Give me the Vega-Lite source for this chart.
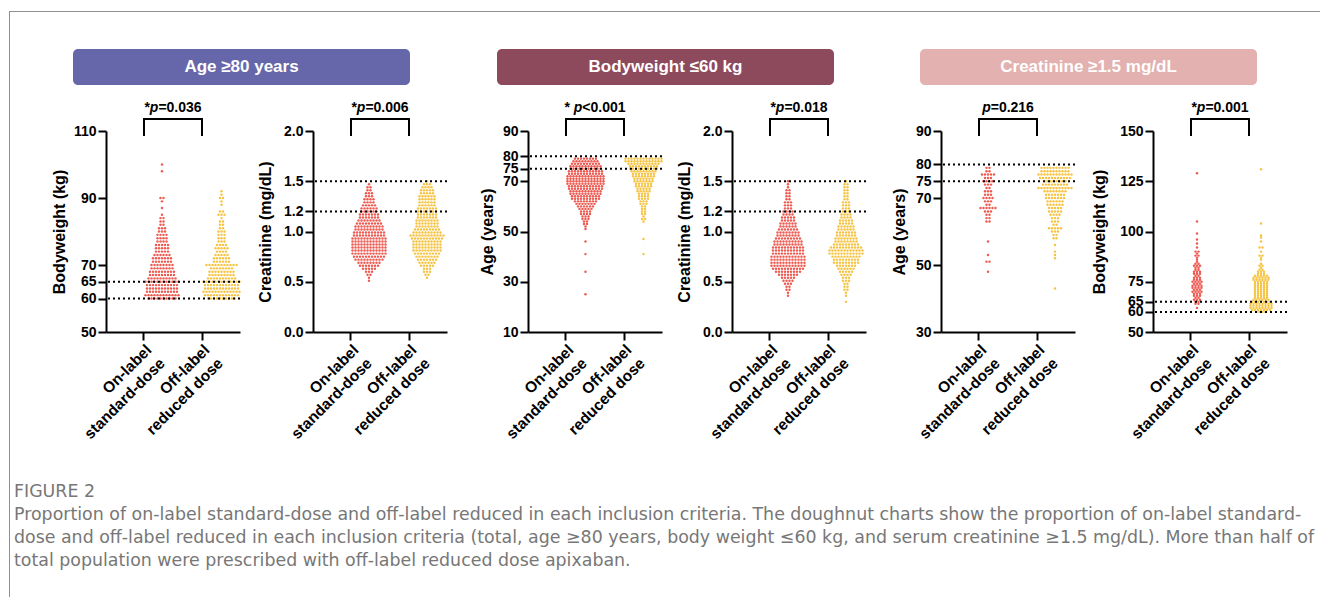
{
"$schema": "https://vega.github.io/schema/vega-lite/v6.json",
"padding": {"left": 9, "top": 11, "right": 0, "bottom": 0},
"background": "white",
"config": {
 "view": {"stroke": null},
 "font": "Liberation Sans",
 "axis": {"domainColor": "#000", "domainWidth": 2, "tickColor": "#000", "tickWidth": 2, "tickSize": 8, "labelColor": "#000", "labelFont": "Liberation Sans", "labelFontSize": 14, "labelFontWeight": "bold", "labelPadding": 2, "titleColor": "#000", "titleFont": "Liberation Sans", "titleFontSize": 16, "titleFontWeight": "bold", "grid": false, "labelOverlap": false, "labelFlush": false}
},
"datasets": {
 "a1": [60,60,60,60,60,60,60,60,60,60,61,61,61,61,61,61,61,61,61,61,61,61,62,62,62,62,62,62,62,62,62,62,62,63,63,63,63,63,63,63,63,63,63,63,64,64,64,64,64,64,64,64,64,64,64,65,65,65,65,65,65,65,65,65,65,65,65,66,66,66,66,66,66,66,66,66,66,67,67,67,67,67,67,67,67,67,68,68,68,68,68,68,68,68,68,69,69,69,69,69,69,69,69,70,70,70,70,70,70,70,70,71,71,71,71,71,71,71,72,72,72,72,72,72,72,73,73,73,73,73,73,74,74,74,74,74,75,75,75,75,75,76,76,76,76,76,77,77,77,77,78,78,78,78,79,79,79,79,80,80,80,81,81,81,82,82,83,83,84,84,85,87,89,90,90,98,100],
 "b1": [60,60,60,60,60,60,60,60,60,60,61,61,61,61,61,61,61,61,61,61,61,61,62,62,62,62,62,62,62,62,62,62,62,62,62,63,63,63,63,63,63,63,63,63,63,63,63,64,64,64,64,64,64,64,64,64,64,64,64,65,65,65,65,65,65,65,65,65,65,65,65,65,66,66,66,66,66,66,66,66,66,66,67,67,67,67,67,67,67,67,67,68,68,68,68,68,68,68,68,68,69,69,69,69,69,69,69,69,70,70,70,70,70,70,70,70,70,70,70,71,71,71,71,71,71,72,72,72,72,72,72,73,73,73,73,73,74,74,74,74,75,75,75,75,75,76,76,76,76,77,77,77,78,78,78,79,79,79,80,80,80,81,81,82,82,83,83,84,85,85,85,86,86,88,89,90,90,91,92],
 "a2": [0.51,0.54,0.57,0.57,0.6,0.6,0.6,0.63,0.63,0.63,0.63,0.63,0.66,0.66,0.66,0.66,0.66,0.66,0.66,0.69,0.69,0.69,0.69,0.69,0.69,0.69,0.69,0.72,0.72,0.72,0.72,0.72,0.72,0.72,0.72,0.72,0.72,0.75,0.75,0.75,0.75,0.75,0.75,0.75,0.75,0.75,0.75,0.75,0.78,0.78,0.78,0.78,0.78,0.78,0.78,0.78,0.78,0.78,0.78,0.78,0.81,0.81,0.81,0.81,0.81,0.81,0.81,0.81,0.81,0.81,0.81,0.81,0.84,0.84,0.84,0.84,0.84,0.84,0.84,0.84,0.84,0.84,0.84,0.84,0.87,0.87,0.87,0.87,0.87,0.87,0.87,0.87,0.87,0.87,0.87,0.87,0.9,0.9,0.9,0.9,0.9,0.9,0.9,0.9,0.9,0.9,0.9,0.9,0.93,0.93,0.93,0.93,0.93,0.93,0.93,0.93,0.93,0.93,0.93,0.93,0.96,0.96,0.96,0.96,0.96,0.96,0.96,0.96,0.96,0.96,0.96,0.99,0.99,0.99,0.99,0.99,0.99,0.99,0.99,0.99,0.99,0.99,1.02,1.02,1.02,1.02,1.02,1.02,1.02,1.02,1.02,1.02,1.05,1.05,1.05,1.05,1.05,1.05,1.05,1.05,1.05,1.05,1.08,1.08,1.08,1.08,1.08,1.08,1.08,1.08,1.08,1.11,1.11,1.11,1.11,1.11,1.11,1.11,1.11,1.14,1.14,1.14,1.14,1.14,1.14,1.14,1.17,1.17,1.17,1.17,1.17,1.17,1.17,1.2,1.2,1.2,1.2,1.2,1.2,1.23,1.23,1.23,1.23,1.23,1.23,1.26,1.26,1.26,1.26,1.26,1.29,1.29,1.29,1.29,1.32,1.32,1.32,1.32,1.35,1.35,1.35,1.38,1.38,1.38,1.41,1.41,1.44,1.44,1.47],
 "b2": [0.54,0.57,0.57,0.6,0.6,0.6,0.63,0.63,0.63,0.66,0.66,0.66,0.66,0.66,0.69,0.69,0.69,0.69,0.69,0.69,0.72,0.72,0.72,0.72,0.72,0.72,0.72,0.75,0.75,0.75,0.75,0.75,0.75,0.75,0.75,0.78,0.78,0.78,0.78,0.78,0.78,0.78,0.78,0.78,0.81,0.81,0.81,0.81,0.81,0.81,0.81,0.81,0.81,0.81,0.84,0.84,0.84,0.84,0.84,0.84,0.84,0.84,0.84,0.84,0.87,0.87,0.87,0.87,0.87,0.87,0.87,0.87,0.87,0.87,0.9,0.9,0.9,0.9,0.9,0.9,0.9,0.9,0.9,0.9,0.93,0.93,0.93,0.93,0.93,0.93,0.93,0.93,0.93,0.93,0.93,0.96,0.96,0.96,0.96,0.96,0.96,0.96,0.96,0.96,0.96,0.96,0.96,0.99,0.99,0.99,0.99,0.99,0.99,0.99,0.99,0.99,0.99,1.02,1.02,1.02,1.02,1.02,1.02,1.02,1.02,1.02,1.05,1.05,1.05,1.05,1.05,1.05,1.05,1.05,1.08,1.08,1.08,1.08,1.08,1.08,1.08,1.08,1.11,1.11,1.11,1.11,1.11,1.11,1.11,1.11,1.14,1.14,1.14,1.14,1.14,1.14,1.14,1.17,1.17,1.17,1.17,1.17,1.17,1.17,1.2,1.2,1.2,1.2,1.2,1.2,1.2,1.23,1.23,1.23,1.23,1.23,1.23,1.23,1.26,1.26,1.26,1.26,1.26,1.26,1.29,1.29,1.29,1.29,1.29,1.29,1.32,1.32,1.32,1.32,1.32,1.32,1.35,1.35,1.35,1.35,1.35,1.35,1.38,1.38,1.38,1.38,1.38,1.41,1.41,1.41,1.41,1.41,1.44,1.44,1.44,1.44,1.47,1.47,1.47,1.5],
 "a3": [79,79,79,79,79,79,79,79,78,78,78,78,78,78,78,78,78,77,77,77,77,77,77,77,77,77,77,76,76,76,76,76,76,76,76,76,76,76,75,75,75,75,75,75,75,75,75,75,75,74,74,74,74,74,74,74,74,74,74,74,74,73,73,73,73,73,73,73,73,73,73,73,73,72,72,72,72,72,72,72,72,72,72,72,72,72,71,71,71,71,71,71,71,71,71,71,71,71,71,70,70,70,70,70,70,70,70,70,70,70,70,70,69,69,69,69,69,69,69,69,69,69,69,69,69,68,68,68,68,68,68,68,68,68,68,68,68,67,67,67,67,67,67,67,67,67,67,67,67,66,66,66,66,66,66,66,66,66,66,66,65,65,65,65,65,65,65,65,65,65,65,64,64,64,64,64,64,64,64,64,64,63,63,63,63,63,63,63,63,63,63,62,62,62,62,62,62,62,62,61,61,61,61,61,61,61,60,60,60,60,60,60,59,59,59,59,59,58,58,58,58,57,57,57,57,56,56,56,55,55,55,54,54,53,53,52,51,46,41,34,25],
 "b3": [79,79,79,79,79,79,79,79,79,79,79,79,79,78,78,78,78,78,78,78,78,78,78,78,78,78,77,77,77,77,77,77,77,77,77,77,77,76,76,76,76,76,76,76,76,76,76,75,75,75,75,75,75,75,75,75,75,74,74,74,74,74,74,74,74,74,73,73,73,73,73,73,73,73,72,72,72,72,72,72,72,72,71,71,71,71,71,71,71,70,70,70,70,70,70,70,69,69,69,69,69,69,68,68,68,68,68,68,67,67,67,67,67,66,66,66,66,66,65,65,65,65,64,64,64,64,63,63,63,63,62,62,62,61,61,61,60,60,59,59,58,58,57,57,56,55,55,54,47,41],
 "a4": [0.36,0.39,0.42,0.42,0.45,0.45,0.48,0.48,0.48,0.51,0.51,0.51,0.51,0.54,0.54,0.54,0.54,0.54,0.57,0.57,0.57,0.57,0.57,0.57,0.57,0.6,0.6,0.6,0.6,0.6,0.6,0.6,0.6,0.6,0.63,0.63,0.63,0.63,0.63,0.63,0.63,0.63,0.63,0.63,0.63,0.66,0.66,0.66,0.66,0.66,0.66,0.66,0.66,0.66,0.66,0.66,0.66,0.69,0.69,0.69,0.69,0.69,0.69,0.69,0.69,0.69,0.69,0.69,0.69,0.72,0.72,0.72,0.72,0.72,0.72,0.72,0.72,0.72,0.72,0.72,0.72,0.75,0.75,0.75,0.75,0.75,0.75,0.75,0.75,0.75,0.75,0.75,0.75,0.78,0.78,0.78,0.78,0.78,0.78,0.78,0.78,0.78,0.78,0.78,0.81,0.81,0.81,0.81,0.81,0.81,0.81,0.81,0.81,0.81,0.81,0.84,0.84,0.84,0.84,0.84,0.84,0.84,0.84,0.84,0.84,0.84,0.87,0.87,0.87,0.87,0.87,0.87,0.87,0.87,0.87,0.87,0.9,0.9,0.9,0.9,0.9,0.9,0.9,0.9,0.9,0.9,0.93,0.93,0.93,0.93,0.93,0.93,0.93,0.93,0.93,0.96,0.96,0.96,0.96,0.96,0.96,0.96,0.96,0.99,0.99,0.99,0.99,0.99,0.99,0.99,0.99,1.02,1.02,1.02,1.02,1.02,1.02,1.02,1.05,1.05,1.05,1.05,1.05,1.05,1.08,1.08,1.08,1.08,1.08,1.08,1.11,1.11,1.11,1.11,1.11,1.14,1.14,1.14,1.14,1.14,1.17,1.17,1.17,1.17,1.2,1.2,1.2,1.2,1.23,1.23,1.23,1.26,1.26,1.26,1.29,1.29,1.29,1.32,1.32,1.35,1.35,1.38,1.38,1.41,1.41,1.44,1.47,1.5],
 "b4": [0.3,0.36,0.39,0.42,0.42,0.45,0.45,0.48,0.48,0.51,0.51,0.51,0.54,0.54,0.54,0.57,0.57,0.57,0.57,0.6,0.6,0.6,0.6,0.6,0.63,0.63,0.63,0.63,0.63,0.63,0.66,0.66,0.66,0.66,0.66,0.66,0.66,0.69,0.69,0.69,0.69,0.69,0.69,0.69,0.69,0.69,0.72,0.72,0.72,0.72,0.72,0.72,0.72,0.72,0.72,0.75,0.75,0.75,0.75,0.75,0.75,0.75,0.75,0.75,0.75,0.78,0.78,0.78,0.78,0.78,0.78,0.78,0.78,0.78,0.78,0.78,0.78,0.81,0.81,0.81,0.81,0.81,0.81,0.81,0.81,0.81,0.81,0.81,0.81,0.84,0.84,0.84,0.84,0.84,0.84,0.84,0.84,0.84,0.84,0.84,0.87,0.87,0.87,0.87,0.87,0.87,0.87,0.87,0.87,0.9,0.9,0.9,0.9,0.9,0.9,0.9,0.9,0.93,0.93,0.93,0.93,0.93,0.93,0.93,0.93,0.96,0.96,0.96,0.96,0.96,0.96,0.96,0.99,0.99,0.99,0.99,0.99,0.99,0.99,1.02,1.02,1.02,1.02,1.02,1.02,1.05,1.05,1.05,1.05,1.05,1.05,1.08,1.08,1.08,1.08,1.08,1.11,1.11,1.11,1.11,1.11,1.14,1.14,1.14,1.14,1.17,1.17,1.17,1.17,1.2,1.2,1.2,1.23,1.23,1.23,1.26,1.26,1.26,1.29,1.29,1.29,1.32,1.32,1.35,1.35,1.38,1.38,1.41,1.41,1.44,1.44,1.47,1.47,1.5],
 "a5": [79,79,78,78,77,77,77,77,77,76,76,76,75,75,75,75,74,74,74,73,73,72,72,72,71,71,71,70,70,70,70,69,69,69,68,68,67,67,67,67,67,67,66,66,66,65,65,64,64,63,63,57,53,51,51,48],
 "b5": [79,79,79,79,79,79,79,79,79,79,78,78,78,78,78,78,78,78,78,78,77,77,77,77,77,77,77,77,77,77,77,77,76,76,76,76,76,76,76,76,76,76,76,75,75,75,75,75,75,75,75,74,74,74,74,74,74,74,74,74,73,73,73,73,73,73,73,73,73,73,73,73,72,72,72,72,72,72,72,72,71,71,71,71,71,71,71,70,70,70,70,70,70,70,69,69,69,69,69,69,68,68,68,68,68,68,67,67,67,67,67,66,66,66,66,66,65,65,65,65,64,64,64,63,63,63,62,62,61,61,61,61,61,60,60,60,59,59,58,58,56,54,53,52,43],
 "a6": [62,64,64,65,65,66,66,66,67,67,68,68,68,69,69,69,70,70,70,70,71,71,71,72,72,72,72,73,73,73,73,74,74,74,75,75,75,75,76,76,76,77,77,77,78,78,79,79,79,80,80,80,81,81,82,82,83,83,83,84,84,85,86,87,88,88,89,90,90,92,94,96,99,105,129],
 "b6": [60,60,60,60,61,61,61,61,61,61,61,62,62,62,62,62,62,62,62,63,63,63,63,63,63,63,63,64,64,64,64,64,64,64,64,65,65,65,65,65,65,65,66,66,66,66,66,66,67,67,67,67,67,68,68,68,68,68,69,69,69,69,69,70,70,70,70,70,71,71,71,71,71,72,72,72,72,72,73,73,73,73,73,74,74,74,74,74,75,75,75,75,75,76,76,76,76,76,76,77,77,77,77,77,77,78,78,78,78,78,79,79,79,80,80,80,81,81,82,83,83,84,86,87,88,88,90,92,92,95,97,98,104,131]
},
"spacing": 0,
"hconcat": [
 {"width": 1, "height": 586, "data": {"values": [{}]}, "mark": {"type": "rect", "color": "#909090"}, "encoding": {}},
 {"spacing": 0, "vconcat": [
  {"spacing": 0, "bounds": "flush", "hconcat": [
   {"width": 1310, "height": 1, "data": {"values": [{}]}, "mark": {"type": "rect", "color": "#909090"}, "encoding": {}},
   {"width": 1, "height": 38, "data": {"values": [{}]}, "mark": {"type": "rect", "opacity": 0}, "encoding": {}}
  ]},
  {"spacing": 0, "bounds": "flush", "hconcat": [
   {"width": 63, "height": 51, "data": {"values": [{}]}, "mark": {"type": "rect", "opacity": 0}, "encoding": {}},
   {"width": 337, "height": 36, "data": {"values": [{"t": "Age ≥80 years"}]}, "layer": [
    {"mark": {"type": "rect", "color": "#6667AB", "cornerRadius": 5}, "encoding": {}},
    {"mark": {"type": "text", "color": "white", "fontSize": 17, "fontWeight": "bold", "font": "Liberation Sans", "align": "center", "baseline": "middle"}, "encoding": {"text": {"field": "t"}}}
   ]},
   {"width": 87, "height": 1, "data": {"values": [{}]}, "mark": {"type": "rect", "opacity": 0}, "encoding": {}},
   {"width": 337, "height": 36, "data": {"values": [{"t": "Bodyweight ≤60 kg"}]}, "layer": [
    {"mark": {"type": "rect", "color": "#8D4A5D", "cornerRadius": 5}, "encoding": {}},
    {"mark": {"type": "text", "color": "white", "fontSize": 17, "fontWeight": "bold", "font": "Liberation Sans", "align": "center", "baseline": "middle"}, "encoding": {"text": {"field": "t"}}}
   ]},
   {"width": 86, "height": 1, "data": {"values": [{}]}, "mark": {"type": "rect", "opacity": 0}, "encoding": {}},
   {"width": 337, "height": 36, "data": {"values": [{"t": "Creatinine ≥1.5 mg/dL"}]}, "layer": [
    {"mark": {"type": "rect", "color": "#E2B1B0", "cornerRadius": 5}, "encoding": {}},
    {"mark": {"type": "text", "color": "white", "fontSize": 17, "fontWeight": "bold", "font": "Liberation Sans", "align": "center", "baseline": "middle"}, "encoding": {"text": {"field": "t"}}}
   ]}
  ]},
  {"spacing": 0, "bounds": "flush", "hconcat": [
   {"width": 96, "height": 349, "data": {"values": [{}]}, "mark": {"type": "rect", "opacity": 0}, "encoding": {}},
   {"width": 134, "height": 201,
    "encoding": {"y": {"field": "data", "type": "quantitative", "title": "Bodyweight (kg)", "scale": {"domain": [50, 110], "nice": false, "zero": false}, "axis": {"values": [50, 60, 65, 70, 90, 110], "titlePadding": 6}}},
    "layer": [
     {"data": {"name": "a1"}, "transform": [{"window": [{"op": "count", "as": "one"}], "frame": [0, 0]}, {"stack": "one", "groupby": ["data"], "offset": "center", "as": ["s0", "s1"]}],
      "mark": {"type": "circle", "size": 6, "color": "#EE5B52", "opacity": 1},
      "encoding": {"x": {"datum": "On-label standard-dose", "type": "nominal", "title": null, "scale": {"type": "band", "domain": ["On-label standard-dose", "Off-label reduced dose"], "paddingInner": 0, "paddingOuter": 0.155}, "axis": {"labelAngle": -45, "labelAlign": "right", "labelBaseline": "top", "labelFontSize": 15.5, "labelLineHeight": 19, "bandPosition": 0.5, "labelPadding": 2, "labelExpr": "datum.label == 'On-label standard-dose' ? ['On-label', 'standard-dose'] : ['Off-label', 'reduced dose']"}},
       "xOffset": {"field": "s0", "type": "quantitative", "scale": {"domain": [-10.17, 9.17], "nice": false, "zero": false}}}},
     {"data": {"name": "b1"}, "transform": [{"window": [{"op": "count", "as": "one"}], "frame": [0, 0]}, {"stack": "one", "groupby": ["data"], "offset": "center", "as": ["s0", "s1"]}],
      "mark": {"type": "circle", "size": 6, "color": "#F6C445", "opacity": 1},
      "encoding": {"x": {"datum": "Off-label reduced dose", "type": "nominal", "title": null, "scale": {"type": "band", "domain": ["On-label standard-dose", "Off-label reduced dose"], "paddingInner": 0, "paddingOuter": 0.155}},
       "xOffset": {"field": "s0", "type": "quantitative", "scale": {"domain": [-10.17, 9.17], "nice": false, "zero": false}}}},
     {"data": {"values": [{"data": 60}, {"data": 65}]}, "mark": {"type": "rule", "color": "black", "strokeWidth": 2, "strokeDash": [2, 3]}, "encoding": {}},
     {"data": {"values": [{"i": 0, "g": "On-label standard-dose", "data": 108.51}, {"i": 1, "g": "On-label standard-dose", "data": 113.58}, {"i": 2, "g": "Off-label reduced dose", "data": 113.58}, {"i": 3, "g": "Off-label reduced dose", "data": 108.51}]},
      "mark": {"type": "line", "color": "black", "strokeWidth": 2, "strokeJoin": "miter"},
      "encoding": {"x": {"field": "g", "type": "nominal", "title": null, "scale": {"type": "band", "domain": ["On-label standard-dose", "Off-label reduced dose"], "paddingInner": 0, "paddingOuter": 0.155}}, "order": {"field": "i", "type": "quantitative"}}},
     {"data": {"values": [{"data": 116.87}]}, "mark": {"type": "text", "text": "*", "align": "right", "baseline": "middle", "dx": -23.15, "fontSize": 14, "fontWeight": "bold", "font": "Liberation Sans", "color": "black"},
      "encoding": {"x": {"datum": "Off-label reduced dose", "type": "nominal", "bandPosition": 0, "title": null, "scale": {"type": "band", "domain": ["On-label standard-dose", "Off-label reduced dose"], "paddingInner": 0, "paddingOuter": 0.155}}}},
     {"data": {"values": [{"data": 116.87}]}, "mark": {"type": "text", "text": "p", "align": "right", "baseline": "middle", "dx": -14.6, "fontSize": 14, "fontWeight": "bold", "fontStyle": "italic", "font": "Liberation Sans", "color": "black"},
      "encoding": {"x": {"datum": "Off-label reduced dose", "type": "nominal", "bandPosition": 0, "title": null, "scale": {"type": "band", "domain": ["On-label standard-dose", "Off-label reduced dose"], "paddingInner": 0, "paddingOuter": 0.155}}}},
     {"data": {"values": [{"data": 116.87}]}, "mark": {"type": "text", "text": "=0.036", "align": "left", "baseline": "middle", "dx": -14.6, "fontSize": 14, "fontWeight": "bold", "font": "Liberation Sans", "color": "black"},
      "encoding": {"x": {"datum": "Off-label reduced dose", "type": "nominal", "bandPosition": 0, "title": null, "scale": {"type": "band", "domain": ["On-label standard-dose", "Off-label reduced dose"], "paddingInner": 0, "paddingOuter": 0.155}}}}
    ]},
   {"width": 73, "height": 1, "data": {"values": [{}]}, "mark": {"type": "rect", "opacity": 0}, "encoding": {}},
   {"width": 134, "height": 201,
    "encoding": {"y": {"field": "data", "type": "quantitative", "title": "Creatinine  (mg/dL)", "scale": {"domain": [0, 2], "nice": false, "zero": false}, "axis": {"values": [0, 0.5, 1, 1.2, 1.5, 2], "format": ".1f", "titlePadding": 10}}},
    "layer": [
     {"data": {"name": "a2"}, "transform": [{"window": [{"op": "count", "as": "one"}], "frame": [0, 0]}, {"stack": "one", "groupby": ["data"], "offset": "center", "as": ["s0", "s1"]}],
      "mark": {"type": "circle", "size": 6, "color": "#EE5B52", "opacity": 1},
      "encoding": {"x": {"datum": "On-label standard-dose", "type": "nominal", "title": null, "scale": {"type": "band", "domain": ["On-label standard-dose", "Off-label reduced dose"], "paddingInner": 0, "paddingOuter": 0.155}, "axis": {"labelAngle": -45, "labelAlign": "right", "labelBaseline": "top", "labelFontSize": 15.5, "labelLineHeight": 19, "bandPosition": 0.5, "labelPadding": 2, "labelExpr": "datum.label == 'On-label standard-dose' ? ['On-label', 'standard-dose'] : ['Off-label', 'reduced dose']"}},
       "xOffset": {"field": "s0", "type": "quantitative", "scale": {"domain": [-10.17, 9.17], "nice": false, "zero": false}}}},
     {"data": {"name": "b2"}, "transform": [{"window": [{"op": "count", "as": "one"}], "frame": [0, 0]}, {"stack": "one", "groupby": ["data"], "offset": "center", "as": ["s0", "s1"]}],
      "mark": {"type": "circle", "size": 6, "color": "#F6C445", "opacity": 1},
      "encoding": {"x": {"datum": "Off-label reduced dose", "type": "nominal", "title": null, "scale": {"type": "band", "domain": ["On-label standard-dose", "Off-label reduced dose"], "paddingInner": 0, "paddingOuter": 0.155}},
       "xOffset": {"field": "s0", "type": "quantitative", "scale": {"domain": [-10.17, 9.17], "nice": false, "zero": false}}}},
     {"data": {"values": [{"data": 1.2}, {"data": 1.5}]}, "mark": {"type": "rule", "color": "black", "strokeWidth": 2, "strokeDash": [2, 3]}, "encoding": {}},
     {"data": {"values": [{"i": 0, "g": "On-label standard-dose", "data": 1.95}, {"i": 1, "g": "On-label standard-dose", "data": 2.119}, {"i": 2, "g": "Off-label reduced dose", "data": 2.119}, {"i": 3, "g": "Off-label reduced dose", "data": 1.95}]},
      "mark": {"type": "line", "color": "black", "strokeWidth": 2, "strokeJoin": "miter"},
      "encoding": {"x": {"field": "g", "type": "nominal", "title": null, "scale": {"type": "band", "domain": ["On-label standard-dose", "Off-label reduced dose"], "paddingInner": 0, "paddingOuter": 0.155}}, "order": {"field": "i", "type": "quantitative"}}},
     {"data": {"values": [{"data": 2.229}]}, "mark": {"type": "text", "text": "*", "align": "right", "baseline": "middle", "dx": -23.15, "fontSize": 14, "fontWeight": "bold", "font": "Liberation Sans", "color": "black"},
      "encoding": {"x": {"datum": "Off-label reduced dose", "type": "nominal", "bandPosition": 0, "title": null, "scale": {"type": "band", "domain": ["On-label standard-dose", "Off-label reduced dose"], "paddingInner": 0, "paddingOuter": 0.155}}}},
     {"data": {"values": [{"data": 2.229}]}, "mark": {"type": "text", "text": "p", "align": "right", "baseline": "middle", "dx": -14.6, "fontSize": 14, "fontWeight": "bold", "fontStyle": "italic", "font": "Liberation Sans", "color": "black"},
      "encoding": {"x": {"datum": "Off-label reduced dose", "type": "nominal", "bandPosition": 0, "title": null, "scale": {"type": "band", "domain": ["On-label standard-dose", "Off-label reduced dose"], "paddingInner": 0, "paddingOuter": 0.155}}}},
     {"data": {"values": [{"data": 2.229}]}, "mark": {"type": "text", "text": "=0.006", "align": "left", "baseline": "middle", "dx": -14.6, "fontSize": 14, "fontWeight": "bold", "font": "Liberation Sans", "color": "black"},
      "encoding": {"x": {"datum": "Off-label reduced dose", "type": "nominal", "bandPosition": 0, "title": null, "scale": {"type": "band", "domain": ["On-label standard-dose", "Off-label reduced dose"], "paddingInner": 0, "paddingOuter": 0.155}}}}
    ]},
   {"width": 81, "height": 1, "data": {"values": [{}]}, "mark": {"type": "rect", "opacity": 0}, "encoding": {}},
   {"width": 134, "height": 201,
    "encoding": {"y": {"field": "data", "type": "quantitative", "title": "Age (years)", "scale": {"domain": [10, 90], "nice": false, "zero": false}, "axis": {"values": [10, 30, 50, 70, 75, 80, 90], "titlePadding": 7}}},
    "layer": [
     {"data": {"name": "a3"}, "transform": [{"window": [{"op": "count", "as": "one"}], "frame": [0, 0]}, {"stack": "one", "groupby": ["data"], "offset": "center", "as": ["s0", "s1"]}],
      "mark": {"type": "circle", "size": 6, "color": "#EE5B52", "opacity": 1},
      "encoding": {"x": {"datum": "On-label standard-dose", "type": "nominal", "title": null, "scale": {"type": "band", "domain": ["On-label standard-dose", "Off-label reduced dose"], "paddingInner": 0, "paddingOuter": 0.155}, "axis": {"labelAngle": -45, "labelAlign": "right", "labelBaseline": "top", "labelFontSize": 15.5, "labelLineHeight": 19, "bandPosition": 0.5, "labelPadding": 2, "labelExpr": "datum.label == 'On-label standard-dose' ? ['On-label', 'standard-dose'] : ['Off-label', 'reduced dose']"}},
       "xOffset": {"field": "s0", "type": "quantitative", "scale": {"domain": [-10.17, 9.17], "nice": false, "zero": false}}}},
     {"data": {"name": "b3"}, "transform": [{"window": [{"op": "count", "as": "one"}], "frame": [0, 0]}, {"stack": "one", "groupby": ["data"], "offset": "center", "as": ["s0", "s1"]}],
      "mark": {"type": "circle", "size": 6, "color": "#F6C445", "opacity": 1},
      "encoding": {"x": {"datum": "Off-label reduced dose", "type": "nominal", "title": null, "scale": {"type": "band", "domain": ["On-label standard-dose", "Off-label reduced dose"], "paddingInner": 0, "paddingOuter": 0.155}},
       "xOffset": {"field": "s0", "type": "quantitative", "scale": {"domain": [-10.17, 9.17], "nice": false, "zero": false}}}},
     {"data": {"values": [{"data": 75}, {"data": 80}]}, "mark": {"type": "rule", "color": "black", "strokeWidth": 2, "strokeDash": [2, 3]}, "encoding": {}},
     {"data": {"values": [{"i": 0, "g": "On-label standard-dose", "data": 88.01}, {"i": 1, "g": "On-label standard-dose", "data": 94.78}, {"i": 2, "g": "Off-label reduced dose", "data": 94.78}, {"i": 3, "g": "Off-label reduced dose", "data": 88.01}]},
      "mark": {"type": "line", "color": "black", "strokeWidth": 2, "strokeJoin": "miter"},
      "encoding": {"x": {"field": "g", "type": "nominal", "title": null, "scale": {"type": "band", "domain": ["On-label standard-dose", "Off-label reduced dose"], "paddingInner": 0, "paddingOuter": 0.155}}, "order": {"field": "i", "type": "quantitative"}}},
     {"data": {"values": [{"data": 99.15}]}, "mark": {"type": "text", "text": "*", "align": "right", "baseline": "middle", "dx": -25.1, "fontSize": 14, "fontWeight": "bold", "font": "Liberation Sans", "color": "black"},
      "encoding": {"x": {"datum": "Off-label reduced dose", "type": "nominal", "bandPosition": 0, "title": null, "scale": {"type": "band", "domain": ["On-label standard-dose", "Off-label reduced dose"], "paddingInner": 0, "paddingOuter": 0.155}}}},
     {"data": {"values": [{"data": 99.15}]}, "mark": {"type": "text", "text": "p", "align": "right", "baseline": "middle", "dx": -12.66, "fontSize": 14, "fontWeight": "bold", "fontStyle": "italic", "font": "Liberation Sans", "color": "black"},
      "encoding": {"x": {"datum": "Off-label reduced dose", "type": "nominal", "bandPosition": 0, "title": null, "scale": {"type": "band", "domain": ["On-label standard-dose", "Off-label reduced dose"], "paddingInner": 0, "paddingOuter": 0.155}}}},
     {"data": {"values": [{"data": 99.15}]}, "mark": {"type": "text", "text": "<0.001", "align": "left", "baseline": "middle", "dx": -12.66, "fontSize": 14, "fontWeight": "bold", "font": "Liberation Sans", "color": "black"},
      "encoding": {"x": {"datum": "Off-label reduced dose", "type": "nominal", "bandPosition": 0, "title": null, "scale": {"type": "band", "domain": ["On-label standard-dose", "Off-label reduced dose"], "paddingInner": 0, "paddingOuter": 0.155}}}}
    ]},
   {"width": 70, "height": 1, "data": {"values": [{}]}, "mark": {"type": "rect", "opacity": 0}, "encoding": {}},
   {"width": 134, "height": 201,
    "encoding": {"y": {"field": "data", "type": "quantitative", "title": "Creatinine  (mg/dL)", "scale": {"domain": [0, 2], "nice": false, "zero": false}, "axis": {"values": [0, 0.5, 1, 1.2, 1.5, 2], "format": ".1f", "titlePadding": 10}}},
    "layer": [
     {"data": {"name": "a4"}, "transform": [{"window": [{"op": "count", "as": "one"}], "frame": [0, 0]}, {"stack": "one", "groupby": ["data"], "offset": "center", "as": ["s0", "s1"]}],
      "mark": {"type": "circle", "size": 6, "color": "#EE5B52", "opacity": 1},
      "encoding": {"x": {"datum": "On-label standard-dose", "type": "nominal", "title": null, "scale": {"type": "band", "domain": ["On-label standard-dose", "Off-label reduced dose"], "paddingInner": 0, "paddingOuter": 0.155}, "axis": {"labelAngle": -45, "labelAlign": "right", "labelBaseline": "top", "labelFontSize": 15.5, "labelLineHeight": 19, "bandPosition": 0.5, "labelPadding": 2, "labelExpr": "datum.label == 'On-label standard-dose' ? ['On-label', 'standard-dose'] : ['Off-label', 'reduced dose']"}},
       "xOffset": {"field": "s0", "type": "quantitative", "scale": {"domain": [-10.17, 9.17], "nice": false, "zero": false}}}},
     {"data": {"name": "b4"}, "transform": [{"window": [{"op": "count", "as": "one"}], "frame": [0, 0]}, {"stack": "one", "groupby": ["data"], "offset": "center", "as": ["s0", "s1"]}],
      "mark": {"type": "circle", "size": 6, "color": "#F6C445", "opacity": 1},
      "encoding": {"x": {"datum": "Off-label reduced dose", "type": "nominal", "title": null, "scale": {"type": "band", "domain": ["On-label standard-dose", "Off-label reduced dose"], "paddingInner": 0, "paddingOuter": 0.155}},
       "xOffset": {"field": "s0", "type": "quantitative", "scale": {"domain": [-10.17, 9.17], "nice": false, "zero": false}}}},
     {"data": {"values": [{"data": 1.2}, {"data": 1.5}]}, "mark": {"type": "rule", "color": "black", "strokeWidth": 2, "strokeDash": [2, 3]}, "encoding": {}},
     {"data": {"values": [{"i": 0, "g": "On-label standard-dose", "data": 1.95}, {"i": 1, "g": "On-label standard-dose", "data": 2.119}, {"i": 2, "g": "Off-label reduced dose", "data": 2.119}, {"i": 3, "g": "Off-label reduced dose", "data": 1.95}]},
      "mark": {"type": "line", "color": "black", "strokeWidth": 2, "strokeJoin": "miter"},
      "encoding": {"x": {"field": "g", "type": "nominal", "title": null, "scale": {"type": "band", "domain": ["On-label standard-dose", "Off-label reduced dose"], "paddingInner": 0, "paddingOuter": 0.155}}, "order": {"field": "i", "type": "quantitative"}}},
     {"data": {"values": [{"data": 2.229}]}, "mark": {"type": "text", "text": "*", "align": "right", "baseline": "middle", "dx": -23.15, "fontSize": 14, "fontWeight": "bold", "font": "Liberation Sans", "color": "black"},
      "encoding": {"x": {"datum": "Off-label reduced dose", "type": "nominal", "bandPosition": 0, "title": null, "scale": {"type": "band", "domain": ["On-label standard-dose", "Off-label reduced dose"], "paddingInner": 0, "paddingOuter": 0.155}}}},
     {"data": {"values": [{"data": 2.229}]}, "mark": {"type": "text", "text": "p", "align": "right", "baseline": "middle", "dx": -14.6, "fontSize": 14, "fontWeight": "bold", "fontStyle": "italic", "font": "Liberation Sans", "color": "black"},
      "encoding": {"x": {"datum": "Off-label reduced dose", "type": "nominal", "bandPosition": 0, "title": null, "scale": {"type": "band", "domain": ["On-label standard-dose", "Off-label reduced dose"], "paddingInner": 0, "paddingOuter": 0.155}}}},
     {"data": {"values": [{"data": 2.229}]}, "mark": {"type": "text", "text": "=0.018", "align": "left", "baseline": "middle", "dx": -14.6, "fontSize": 14, "fontWeight": "bold", "font": "Liberation Sans", "color": "black"},
      "encoding": {"x": {"datum": "Off-label reduced dose", "type": "nominal", "bandPosition": 0, "title": null, "scale": {"type": "band", "domain": ["On-label standard-dose", "Off-label reduced dose"], "paddingInner": 0, "paddingOuter": 0.155}}}}
    ]},
   {"width": 75, "height": 1, "data": {"values": [{}]}, "mark": {"type": "rect", "opacity": 0}, "encoding": {}},
   {"width": 134, "height": 201,
    "encoding": {"y": {"field": "data", "type": "quantitative", "title": "Age (years)", "scale": {"domain": [30, 90], "nice": false, "zero": false}, "axis": {"values": [30, 50, 70, 75, 80, 90], "titlePadding": 8}}},
    "layer": [
     {"data": {"name": "a5"}, "transform": [{"window": [{"op": "count", "as": "one"}], "frame": [0, 0]}, {"stack": "one", "groupby": ["data"], "offset": "center", "as": ["s0", "s1"]}],
      "mark": {"type": "circle", "size": 6, "color": "#EE5B52", "opacity": 1},
      "encoding": {"x": {"datum": "On-label standard-dose", "type": "nominal", "title": null, "scale": {"type": "band", "domain": ["On-label standard-dose", "Off-label reduced dose"], "paddingInner": 0, "paddingOuter": 0.155}, "axis": {"labelAngle": -45, "labelAlign": "right", "labelBaseline": "top", "labelFontSize": 15.5, "labelLineHeight": 19, "bandPosition": 0.5, "labelPadding": 2, "labelExpr": "datum.label == 'On-label standard-dose' ? ['On-label', 'standard-dose'] : ['Off-label', 'reduced dose']"}},
       "xOffset": {"field": "s0", "type": "quantitative", "scale": {"domain": [-10.17, 9.17], "nice": false, "zero": false}}}},
     {"data": {"name": "b5"}, "transform": [{"window": [{"op": "count", "as": "one"}], "frame": [0, 0]}, {"stack": "one", "groupby": ["data"], "offset": "center", "as": ["s0", "s1"]}],
      "mark": {"type": "circle", "size": 6, "color": "#F6C445", "opacity": 1},
      "encoding": {"x": {"datum": "Off-label reduced dose", "type": "nominal", "title": null, "scale": {"type": "band", "domain": ["On-label standard-dose", "Off-label reduced dose"], "paddingInner": 0, "paddingOuter": 0.155}},
       "xOffset": {"field": "s0", "type": "quantitative", "scale": {"domain": [-10.17, 9.17], "nice": false, "zero": false}}}},
     {"data": {"values": [{"data": 75}, {"data": 80}]}, "mark": {"type": "rule", "color": "black", "strokeWidth": 2, "strokeDash": [2, 3]}, "encoding": {}},
     {"data": {"values": [{"i": 0, "g": "On-label standard-dose", "data": 88.51}, {"i": 1, "g": "On-label standard-dose", "data": 93.58}, {"i": 2, "g": "Off-label reduced dose", "data": 93.58}, {"i": 3, "g": "Off-label reduced dose", "data": 88.51}]},
      "mark": {"type": "line", "color": "black", "strokeWidth": 2, "strokeJoin": "miter"},
      "encoding": {"x": {"field": "g", "type": "nominal", "title": null, "scale": {"type": "band", "domain": ["On-label standard-dose", "Off-label reduced dose"], "paddingInner": 0, "paddingOuter": 0.155}}, "order": {"field": "i", "type": "quantitative"}}},
     {"data": {"values": [{"data": 96.87}]}, "mark": {"type": "text", "text": "p", "align": "right", "baseline": "middle", "dx": -17.3, "fontSize": 14, "fontWeight": "bold", "fontStyle": "italic", "font": "Liberation Sans", "color": "black"},
      "encoding": {"x": {"datum": "Off-label reduced dose", "type": "nominal", "bandPosition": 0, "title": null, "scale": {"type": "band", "domain": ["On-label standard-dose", "Off-label reduced dose"], "paddingInner": 0, "paddingOuter": 0.155}}}},
     {"data": {"values": [{"data": 96.87}]}, "mark": {"type": "text", "text": "=0.216", "align": "left", "baseline": "middle", "dx": -17.3, "fontSize": 14, "fontWeight": "bold", "font": "Liberation Sans", "color": "black"},
      "encoding": {"x": {"datum": "Off-label reduced dose", "type": "nominal", "bandPosition": 0, "title": null, "scale": {"type": "band", "domain": ["On-label standard-dose", "Off-label reduced dose"], "paddingInner": 0, "paddingOuter": 0.155}}}}
    ]},
   {"width": 78, "height": 1, "data": {"values": [{}]}, "mark": {"type": "rect", "opacity": 0}, "encoding": {}},
   {"width": 134, "height": 201,
    "encoding": {"y": {"field": "data", "type": "quantitative", "title": "Bodyweight (kg)", "scale": {"domain": [50, 150], "nice": false, "zero": false}, "axis": {"values": [50, 60, 65, 75, 100, 125, 150], "titlePadding": 12}}},
    "layer": [
     {"data": {"name": "a6"}, "transform": [{"window": [{"op": "count", "as": "one"}], "frame": [0, 0]}, {"stack": "one", "groupby": ["data"], "offset": "center", "as": ["s0", "s1"]}],
      "mark": {"type": "circle", "size": 6, "color": "#EE5B52", "opacity": 1},
      "encoding": {"x": {"datum": "On-label standard-dose", "type": "nominal", "title": null, "scale": {"type": "band", "domain": ["On-label standard-dose", "Off-label reduced dose"], "paddingInner": 0, "paddingOuter": 0.155}, "axis": {"labelAngle": -45, "labelAlign": "right", "labelBaseline": "top", "labelFontSize": 15.5, "labelLineHeight": 19, "bandPosition": 0.5, "labelPadding": 2, "labelExpr": "datum.label == 'On-label standard-dose' ? ['On-label', 'standard-dose'] : ['Off-label', 'reduced dose']"}},
       "xOffset": {"field": "s0", "type": "quantitative", "scale": {"domain": [-10.17, 9.17], "nice": false, "zero": false}}}},
     {"data": {"name": "b6"}, "transform": [{"window": [{"op": "count", "as": "one"}], "frame": [0, 0]}, {"stack": "one", "groupby": ["data"], "offset": "center", "as": ["s0", "s1"]}],
      "mark": {"type": "circle", "size": 6, "color": "#F6C445", "opacity": 1},
      "encoding": {"x": {"datum": "Off-label reduced dose", "type": "nominal", "title": null, "scale": {"type": "band", "domain": ["On-label standard-dose", "Off-label reduced dose"], "paddingInner": 0, "paddingOuter": 0.155}},
       "xOffset": {"field": "s0", "type": "quantitative", "scale": {"domain": [-10.17, 9.17], "nice": false, "zero": false}}}},
     {"data": {"values": [{"data": 60}, {"data": 65}]}, "mark": {"type": "rule", "color": "black", "strokeWidth": 2, "strokeDash": [2, 3]}, "encoding": {}},
     {"data": {"values": [{"i": 0, "g": "On-label standard-dose", "data": 147.51}, {"i": 1, "g": "On-label standard-dose", "data": 155.97}, {"i": 2, "g": "Off-label reduced dose", "data": 155.97}, {"i": 3, "g": "Off-label reduced dose", "data": 147.51}]},
      "mark": {"type": "line", "color": "black", "strokeWidth": 2, "strokeJoin": "miter"},
      "encoding": {"x": {"field": "g", "type": "nominal", "title": null, "scale": {"type": "band", "domain": ["On-label standard-dose", "Off-label reduced dose"], "paddingInner": 0, "paddingOuter": 0.155}}, "order": {"field": "i", "type": "quantitative"}}},
     {"data": {"values": [{"data": 161.44}]}, "mark": {"type": "text", "text": "*", "align": "right", "baseline": "middle", "dx": -23.15, "fontSize": 14, "fontWeight": "bold", "font": "Liberation Sans", "color": "black"},
      "encoding": {"x": {"datum": "Off-label reduced dose", "type": "nominal", "bandPosition": 0, "title": null, "scale": {"type": "band", "domain": ["On-label standard-dose", "Off-label reduced dose"], "paddingInner": 0, "paddingOuter": 0.155}}}},
     {"data": {"values": [{"data": 161.44}]}, "mark": {"type": "text", "text": "p", "align": "right", "baseline": "middle", "dx": -14.6, "fontSize": 14, "fontWeight": "bold", "fontStyle": "italic", "font": "Liberation Sans", "color": "black"},
      "encoding": {"x": {"datum": "Off-label reduced dose", "type": "nominal", "bandPosition": 0, "title": null, "scale": {"type": "band", "domain": ["On-label standard-dose", "Off-label reduced dose"], "paddingInner": 0, "paddingOuter": 0.155}}}},
     {"data": {"values": [{"data": 161.44}]}, "mark": {"type": "text", "text": "=0.001", "align": "left", "baseline": "middle", "dx": -14.6, "fontSize": 14, "fontWeight": "bold", "font": "Liberation Sans", "color": "black"},
      "encoding": {"x": {"datum": "Off-label reduced dose", "type": "nominal", "bandPosition": 0, "title": null, "scale": {"type": "band", "domain": ["On-label standard-dose", "Off-label reduced dose"], "paddingInner": 0, "paddingOuter": 0.155}}}}
    ]}
  ]},
  {"spacing": 0, "bounds": "flush", "hconcat": [
   {"width": 4, "height": 1, "data": {"values": [{}]}, "mark": {"type": "rect", "opacity": 0}, "encoding": {}},
   {"width": 1290, "height": 92,
    "data": {"values": [{"k": 0, "t": "FIGURE 2"}, {"k": 1, "t": "Proportion of on-label standard-dose and off-label reduced in each inclusion criteria. The doughnut charts show the proportion of on-label standard-"}, {"k": 2, "t": "dose and off-label reduced in each inclusion criteria (total, age ≥80 years, body weight ≤60 kg, and serum creatinine ≥1.5 mg/dL). More than half of"}, {"k": 3, "t": "total population were prescribed with off-label reduced dose apixaban."}]},
    "mark": {"type": "text", "align": "left", "baseline": "middle", "font": "DejaVu Sans", "fontSize": 17.4, "color": "#777777"},
    "encoding": {
     "x": {"datum": 0, "type": "quantitative", "scale": {"domain": [0, 1]}, "axis": null},
     "y": {"field": "k", "type": "ordinal", "scale": {"type": "point", "padding": 0.5}, "axis": null},
     "text": {"field": "t"}
    }}
  ]}
 ]}
]
}
